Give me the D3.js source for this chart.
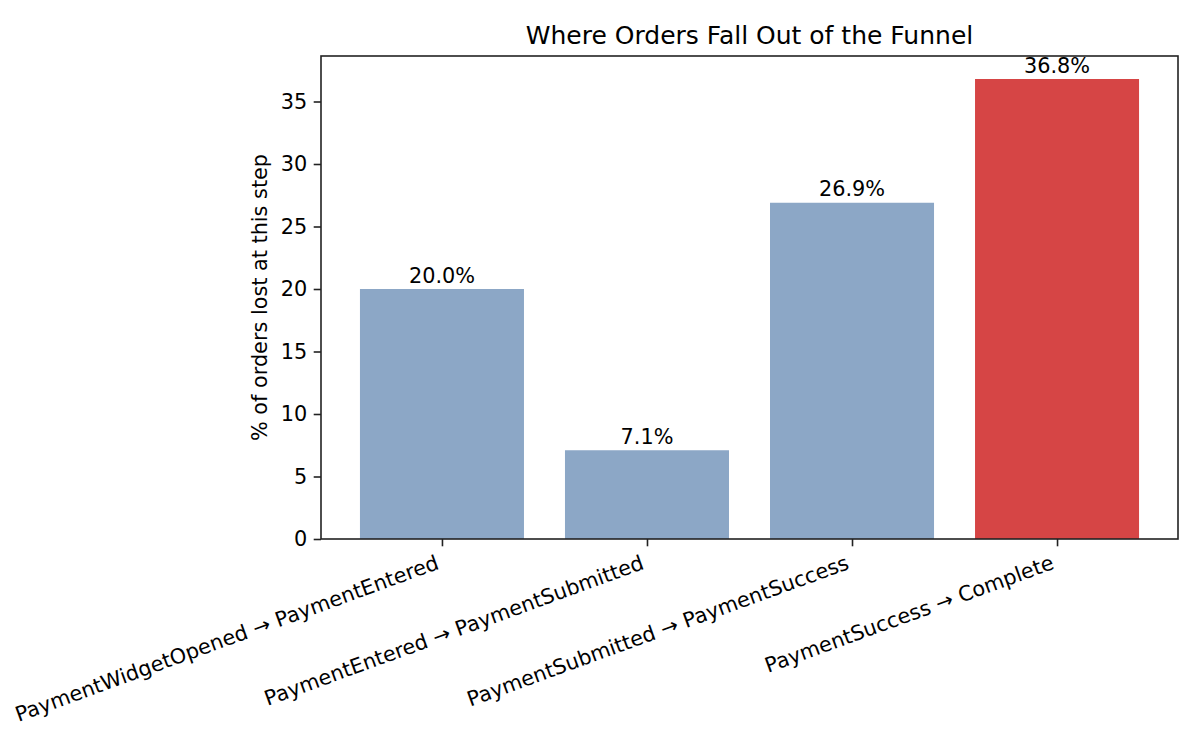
<!DOCTYPE html>
<html>
<head>
<meta charset="utf-8">
<script src="https://cdn.jsdelivr.net/npm/d3@7"></script>
<style>
  html, body { margin: 0; padding: 0; background: #fff; }
  svg { display: block; }
  text { font-family: "DejaVu Sans", sans-serif; fill: #000; }
</style>
</head>
<body>
<svg id="chart" width="1200" height="750"></svg>
<script>
const categories = [
  "PaymentWidgetOpened \u2192 PaymentEntered",
  "PaymentEntered \u2192 PaymentSubmitted",
  "PaymentSubmitted \u2192 PaymentSuccess",
  "PaymentSuccess \u2192 Complete"
];
const lossPct = [20.0, 7.1, 26.9, 36.8];
const yTicks = [0, 5, 10, 15, 20, 25, 30, 35];
const title = "Where Orders Fall Out of the Funnel";
const yLabel = "% of orders lost at this step";

const svg = d3.select("#chart");
const L = 321, R = 1178, T = 56, B = 539;
const barW = 0.8;
const n = categories.length;
const pad = (n - 1 + barW) * 0.05;

const x = d3.scaleLinear()
  .domain([-barW / 2 - pad, n - 1 + barW / 2 + pad])
  .range([L, R]);
const y = d3.scaleLinear()
  .domain([0, d3.max(lossPct) * 1.05])
  .range([B, T]);

const maxIdx = lossPct.indexOf(d3.max(lossPct));
const blue = "#8ca7c6", red = "#d64545";

// bars
svg.append("g").selectAll("rect")
  .data(lossPct)
  .join("rect")
  .attr("x", (d, i) => x(i - barW / 2))
  .attr("width", (d, i) => x(i + barW / 2) - x(i - barW / 2))
  .attr("y", d => y(d))
  .attr("height", d => y(0) - y(d))
  .attr("fill", (d, i) => i === maxIdx ? red : blue);

// bar labels
svg.append("g").selectAll("text")
  .data(lossPct)
  .join("text")
  .attr("x", (d, i) => x(i))
  .attr("y", d => y(d) - 6.5)
  .attr("text-anchor", "middle")
  .attr("font-size", "20.8px")
  .text(d => d.toFixed(1) + "%");

// y axis
const yAxis = d3.axisLeft(y).tickValues(yTicks).tickSize(7.3).tickPadding(6.5).tickFormat(d3.format("d"));
const gy = svg.append("g").attr("transform", `translate(${L},0)`).call(yAxis);
gy.select(".domain").remove();
gy.selectAll(".tick line").attr("stroke", "#222").attr("stroke-width", 1.6);
gy.selectAll(".tick text").attr("font-size", "20.8px").attr("font-family", "DejaVu Sans").attr("fill", "#000");

// x axis
const xAxis = d3.axisBottom(x).tickValues(d3.range(n)).tickSize(7.3).tickFormat("");
const gx = svg.append("g").attr("transform", `translate(0,${B})`).call(xAxis);
gx.select(".domain").remove();
gx.selectAll(".tick line").attr("stroke", "#222").attr("stroke-width", 1.6);

// rotated x labels
const fs = 20.8, asc = 0.76 * fs, desc = 0.24 * fs, ang = 20 * Math.PI / 180;
const y0 = B + 7.3 + 7.3;
svg.append("g").selectAll("text")
  .data(categories)
  .join("text")
  .attr("text-anchor", "end")
  .attr("font-size", fs + "px")
  .attr("transform", (d, i) =>
    `translate(${x(i) - desc * Math.sin(ang)},${y0 + asc * Math.cos(ang)}) rotate(-20)`)
  .text(d => d);

// frame
svg.append("rect")
  .attr("x", L).attr("y", T)
  .attr("width", R - L).attr("height", B - T)
  .attr("fill", "none").attr("stroke", "#222").attr("stroke-width", 1.6);

// title
svg.append("text")
  .attr("x", (L + R) / 2).attr("y", 44)
  .attr("text-anchor", "middle")
  .attr("font-size", "25px")
  .text(title);

// y label
svg.append("text")
  .attr("transform", `translate(267,${(T + B) / 2}) rotate(-90)`)
  .attr("text-anchor", "middle")
  .attr("font-size", "20.8px")
  .text(yLabel);
</script>
</body>
</html>
